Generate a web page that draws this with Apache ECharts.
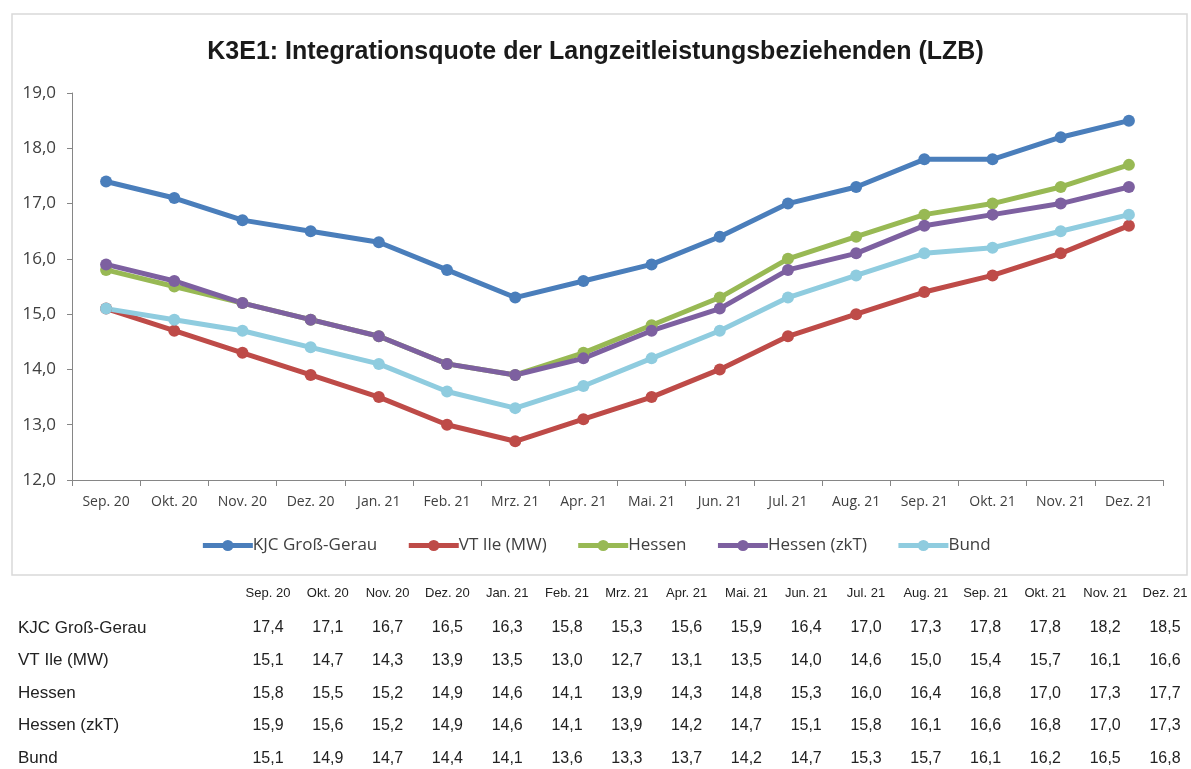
<!DOCTYPE html>
<html>
<head>
<meta charset="utf-8">
<script src="https://cdn.jsdelivr.net/npm/echarts@6/dist/echarts.min.js"></script>
<style>
  html, body { margin: 0; padding: 0; background: #fff; }
  #main { width: 1191px; height: 769px; }
</style>
</head>
<body>
<div id="main"></div>
<script>
var months = ['Sep. 20', 'Okt. 20', 'Nov. 20', 'Dez. 20', 'Jan. 21', 'Feb. 21', 'Mrz. 21', 'Apr. 21',
  'Mai. 21', 'Jun. 21', 'Jul. 21', 'Aug. 21', 'Sep. 21', 'Okt. 21', 'Nov. 21', 'Dez. 21'];

var kjcGrossGerau = [17.4, 17.1, 16.7, 16.5, 16.3, 15.8, 15.3, 15.6, 15.9, 16.4, 17.0, 17.3, 17.8, 17.8, 18.2, 18.5];
var vtIle = [15.1, 14.7, 14.3, 13.9, 13.5, 13.0, 12.7, 13.1, 13.5, 14.0, 14.6, 15.0, 15.4, 15.7, 16.1, 16.6];
var hessen = [15.8, 15.5, 15.2, 14.9, 14.6, 14.1, 13.9, 14.3, 14.8, 15.3, 16.0, 16.4, 16.8, 17.0, 17.3, 17.7];
var hessenZkT = [15.9, 15.6, 15.2, 14.9, 14.6, 14.1, 13.9, 14.2, 14.7, 15.1, 15.8, 16.1, 16.6, 16.8, 17.0, 17.3];
var bund = [15.1, 14.9, 14.7, 14.4, 14.1, 13.6, 13.3, 13.7, 14.2, 14.7, 15.3, 15.7, 16.1, 16.2, 16.5, 16.8];

var seriesNames = ['KJC Groß-Gerau', 'VT Ile (MW)', 'Hessen', 'Hessen (zkT)', 'Bund'];
var seriesData = [kjcGrossGerau, vtIle, hessen, hessenZkT, bund];
var colors = ['#4A7EBB', '#BE4B48', '#98B954', '#7D60A0', '#8FCCDF'];

function fmt(v) {
  return v.toFixed(1).replace('.', ',');
}

var myChart = echarts.init(document.getElementById('main'));

// table below the chart, built from the same arrays
var tableFont = '"Liberation Sans", Arial, sans-serif';
var axisFont = '"Open Sans", sans-serif';
var colX0 = 268, colStep = 59.8;
var graphics = [{
  type: 'rect',
  shape: { x: 12, y: 14, width: 1175, height: 561 },
  style: { fill: 'none', stroke: '#d9d9d9', lineWidth: 1.5 },
  silent: true
}];
months.forEach(function(m, i) {
  graphics.push({
    type: 'text', x: colX0 + i * colStep, y: 593,
    style: { text: m, font: '13px ' + tableFont, fill: '#222', align: 'center', verticalAlign: 'middle' }
  });
});
seriesNames.forEach(function(name, r) {
  var y = 628 + r * 32.6;
  graphics.push({
    type: 'text', x: 18, y: y,
    style: { text: name, font: '17px ' + tableFont, fill: '#222', verticalAlign: 'middle' }
  });
  seriesData[r].forEach(function(v, i) {
    graphics.push({
      type: 'text', x: colX0 + i * colStep, y: y,
      style: { text: fmt(v), font: '16px ' + tableFont, fill: '#222', align: 'center', verticalAlign: 'middle' }
    });
  });
});

var Options = {
  animation: false,
  color: colors,
  title: {
    text: 'K3E1: Integrationsquote der Langzeitleistungsbeziehenden (LZB)',
    left: 'center',
    top: 35,
    textStyle: { fontFamily: tableFont, fontSize: 25, fontWeight: 'bold', color: '#1a1a1a' }
  },
  legend: {
    top: 532,
    left: 'center',
    itemWidth: 50,
    itemHeight: 14,
    itemGap: 29,
    lineStyle: { width: 5 },
    textStyle: { fontFamily: axisFont, fontSize: 17, color: '#404040', padding: [0, 0, 0, -5] },
    data: seriesNames
  },
  grid: { left: 72, right: 28, top: 93, bottom: 289 },
  xAxis: [{
    type: 'category',
    data: months,
    boundaryGap: true,
    axisLine: { lineStyle: { color: '#868686', width: 1 } },
    axisTick: { show: true, length: 6, interval: 0, lineStyle: { color: '#868686' } },
    axisLabel: { margin: 15, interval: 0, fontFamily: axisFont, fontSize: 14, color: '#404040' }
  }],
  yAxis: [{
    type: 'value',
    min: 12,
    max: 19,
    interval: 1,
    axisLine: { show: true, lineStyle: { color: '#868686', width: 1 } },
    axisTick: { show: true, length: 5, lineStyle: { color: '#868686' } },
    splitLine: { show: false },
    axisLabel: { margin: 16, fontFamily: axisFont, fontSize: 17, color: '#404040', formatter: function(v) { return fmt(v); } }
  }],
  graphic: graphics,
  series: []
};

for (var i in seriesNames) {
  Options.series.push({
    name: seriesNames[i],
    type: 'line',
    data: seriesData[i],
    symbol: 'circle',
    symbolSize: 12,
    lineStyle: { width: 5 },
    itemStyle: { color: colors[i] }
  });
}

myChart.setOption(Options);
</script>
</body>
</html>
